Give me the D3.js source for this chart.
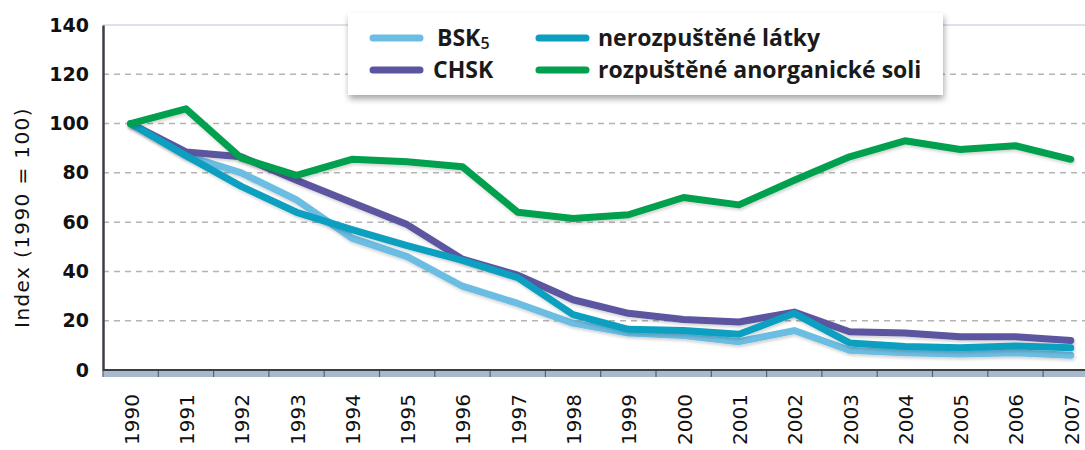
<!DOCTYPE html>
<html>
<head>
<meta charset="utf-8">
<script src="https://cdn.jsdelivr.net/npm/d3@7"></script>
<style>
  body { margin: 0; background: #fff; }
  svg { display: block; }
</style>
</head>
<body>
<div id="chart"></div>
<script>
var years = ['1990', '1991', '1992', '1993', '1994', '1995', '1996', '1997', '1998',
  '1999', '2000', '2001', '2002', '2003', '2004', '2005', '2006', '2007']
var bsk5 = [100, 87, 80, 69, 53.5, 46, 34, 27, 19, 15, 14, 11.5, 16, 8, 7, 6.5, 7, 6]
var chsk = [100, 88.5, 86.5, 77, 68, 59, 45, 38.5, 28.5, 23, 20.5, 19.5, 23.5, 15.5, 15, 13.5, 13.5, 12]
var nerozpustene = [100, 87, 74.5, 64, 57, 50.5, 44.5, 37.5, 22.5, 16.5, 16, 14.5, 23, 11, 9.5, 9, 9.7, 9]
var anorganicke = [100, 106, 86, 79, 85.5, 84.5, 82.5, 64, 61.5, 63, 70, 67, 77, 86.5, 93, 89.5, 91, 85.5]
var yTicks = [0, 20, 40, 60, 80, 100, 120, 140]

var series = [
  { name: 'BSK', sub: '5', values: bsk5, color: '#6cbde2' },
  { name: 'CHSK', values: chsk, color: '#5b559f' },
  { name: 'nerozpuštěné látky', values: nerozpustene, color: '#0a9fc0' },
  { name: 'rozpuštěné anorganické soli', values: anorganicke, color: '#00a04f' }
]

var width = 1085
var height = 450
var margin = { top: 25, left: 103, bottom: 80 }
var plotRight = 103 + 18 * 55.3

var svg = d3.select('#chart')
  .append('svg')
  .attr('width', width)
  .attr('height', height)

var defs = svg.append('defs')
var sh = defs.append('filter').attr('id', 'lineShadow')
  .attr('x', '-10%').attr('y', '-20%').attr('width', '120%').attr('height', '140%')
sh.append('feDropShadow').attr('dx', 1).attr('dy', 2).attr('stdDeviation', 1.5)
  .attr('flood-color', '#000').attr('flood-opacity', 0.18)
var bs = defs.append('filter').attr('id', 'boxShadow')
  .attr('x', '-5%').attr('y', '-20%').attr('width', '110%').attr('height', '150%')
bs.append('feDropShadow').attr('dx', 1).attr('dy', 4).attr('stdDeviation', 3)
  .attr('flood-color', '#000').attr('flood-opacity', 0.35)

var xScale = d3.scaleBand()
  .domain(years)
  .range([margin.left, plotRight])

var yScale = d3.scaleLinear()
  .domain([0, 140])
  .range([height - margin.bottom, margin.top])

// grid
svg.append('g')
  .selectAll('line')
  .data(yTicks.filter(d => d > 0 && d < 140))
  .join('line')
  .attr('x1', margin.left)
  .attr('x2', plotRight)
  .attr('y1', d => yScale(d))
  .attr('y2', d => yScale(d))
  .style('stroke', '#b4b4b4')
  .style('stroke-width', 1.5)
  .style('stroke-dasharray', '6,5')

// top border
svg.append('line')
  .attr('x1', margin.left).attr('x2', plotRight)
  .attr('y1', yScale(140)).attr('y2', yScale(140))
  .style('stroke', '#b9c6d6')
  .style('stroke-width', 1)

// x axis band
var y0 = yScale(0)
svg.append('rect')
  .attr('x', margin.left)
  .attr('y', y0)
  .attr('width', plotRight - margin.left)
  .attr('height', 7)
  .style('fill', '#a9b9cc')

svg.append('g')
  .selectAll('line')
  .data(years)
  .join('line')
  .attr('x1', d => xScale(d))
  .attr('x2', d => xScale(d))
  .attr('y1', y0)
  .attr('y2', y0 + 7)
  .style('stroke', '#56606c')
  .style('stroke-width', 1.2)

svg.append('line')
  .attr('x1', margin.left).attr('x2', plotRight)
  .attr('y1', y0).attr('y2', y0)
  .style('stroke', '#3a3f46')
  .style('stroke-width', 2)

// y axis
var yAxis = d3.axisLeft(yScale)
  .tickValues(yTicks)
  .tickSize(0)
  .tickPadding(14)

var yG = svg.append('g')
  .attr('transform', `translate(${margin.left},0)`)
  .call(yAxis)
yG.select('.domain')
  .style('stroke', '#3a3f46')
  .style('stroke-width', 2.5)
yG.selectAll('text')
  .style('font-family', 'DejaVu Sans')
  .style('font-weight', 'bold')
  .style('font-size', '19px')
  .style('fill', '#111')

// year labels
svg.append('g')
  .selectAll('text')
  .data(years)
  .join('text')
  .text(d => d)
  .attr('transform', d => `translate(${xScale(d) + xScale.bandwidth() / 2 + 8},${y0 + 24}) rotate(-90)`)
  .style('text-anchor', 'end')
  .style('font-family', 'DejaVu Sans')
  .style('font-size', '20px')
  .style('fill', '#111')

svg.append('text')
  .text('Index (1990 = 100)')
  .attr('transform', `translate(29,${(margin.top + y0) / 2 + 20}) rotate(-90)`)
  .style('text-anchor', 'middle')
  .style('font-family', 'DejaVu Sans')
  .style('font-size', '20px')
  .style('letter-spacing', '1.4px')
  .style('fill', '#111')

// lines
var line = d3.line()
  .x((d, i) => xScale(years[i]) + xScale.bandwidth() / 2)
  .y(d => yScale(d))

svg.append('g')
  .attr('class', 'lines')
  .selectAll('path')
  .data(series)
  .join('path')
  .attr('d', d => line(d.values))
  .style('fill', 'none')
  .style('stroke', d => d.color)
  .style('stroke-width', 7)
  .style('stroke-linejoin', 'round')
  .style('stroke-linecap', 'round')
  .attr('filter', 'url(#lineShadow)')

// legend
var legend = svg.append('g')
legend.append('rect')
  .attr('x', 348).attr('y', 13)
  .attr('width', 595).attr('height', 82)
  .style('fill', '#fff')
  .attr('filter', 'url(#boxShadow)')

var legendPos = [
  { x: 373, y: 38, tx: 437 },
  { x: 373, y: 70, tx: 433 },
  { x: 539, y: 38, tx: 598 },
  { x: 539, y: 70, tx: 598 }
]

series.forEach(function(s, i) {
  var p = legendPos[i]
  legend.append('line')
    .attr('x1', p.x).attr('x2', p.x + 47)
    .attr('y1', p.y).attr('y2', p.y)
    .style('stroke', s.color)
    .style('stroke-width', 7)
    .style('stroke-linecap', 'round')
  var t = legend.append('text')
    .attr('x', p.tx)
    .attr('y', p.y + 8)
    .style('font-family', 'Open Sans')
    .style('font-weight', 'bold')
    .style('font-size', '23px')
    .style('fill', '#1a1a1a')
    .text(s.name)
  if (s.sub) {
    t.append('tspan')
      .attr('dy', 3)
      .style('font-size', '16px')
      .style('font-weight', '600')
      .text(s.sub)
  }
})
</script>
</body>
</html>
